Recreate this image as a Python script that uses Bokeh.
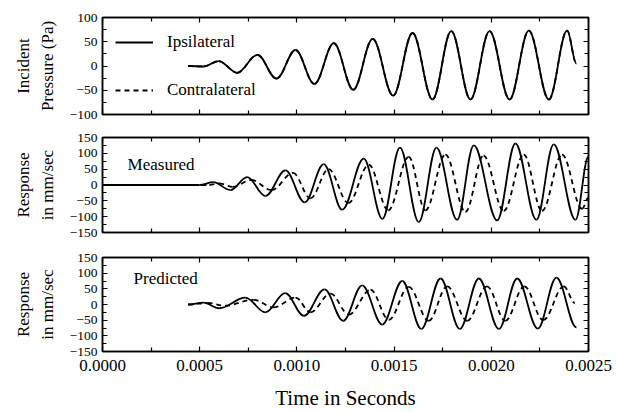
import numpy as np
from bokeh.plotting import figure
from bokeh.models import (Range1d, LinearAxis, FixedTicker, NumeralTickFormatter,
                          CustomJSTickFormatter, Legend, LegendItem, Label, ColumnDataSource)
from bokeh.layouts import column
from bokeh.embed import file_html
from bokeh.resources import INLINE

# ---------------- data ----------------
X_TICKS = [0.0, 0.0005, 0.0010, 0.0015, 0.0020, 0.0025]
X_MINOR = [0.00025, 0.00075, 0.00125, 0.00175, 0.00225]
Y_TICKS_TOP = [-100, -50, 0, 50, 100]
Y_MINOR_TOP = [-75, -25, 25, 75]
Y_TICKS_RESP = [-150, -100, -50, 0, 50, 100, 150]
Y_MINOR_RESP = [-125, -75, -25, 25, 75, 125]

# Incident pressure (Pa): extrema of the traces
IPSI_T = [0.00044, 0.00052, 0.000598, 0.000693, 0.000797, 0.000895, 0.000993, 0.00109,
          0.00119, 0.00129, 0.00139, 0.001495, 0.001595, 0.0016975, 0.001794, 0.001893,
          0.001991, 0.002094, 0.002193, 0.002296, 0.00239, 0.002438]
IPSI_V = [0, -1, 10, -14, 23, -26, 33, -37, 47, -49, 56, -61, 68, -69, 72, -69,
          72, -69, 73, -69, 73, 5]
CONTRA_T = list(IPSI_T)
CONTRA_V = list(IPSI_V)

# Measured response (mm/sec)
MEAS_IPSI_T = [0.0, 0.00050, 0.00057, 0.000658, 0.000744, 0.000838, 0.000941, 0.00104,
               0.001138, 0.001233, 0.001344, 0.00144, 0.00153, 0.001627, 0.001718, 0.001824,
               0.00191, 0.00203, 0.002124, 0.002232, 0.002321, 0.002433, 0.0025]
MEAS_IPSI_V = [0, 0, 9, -16, 25, -35, 46, -55, 66, -78, 83, -107, 118, -117, 118, -110,
               125, -112, 131, -110, 128, -110, 90]
MEAS_CONTRA_T = [0.0, 0.00055, 0.00060, 0.00067, 0.000765, 0.00087, 0.00098, 0.00107,
                 0.001163, 0.001265, 0.00137, 0.00147, 0.001575, 0.001661, 0.001764, 0.001867,
                 0.00196, 0.002064, 0.002167, 0.002261, 0.002364, 0.002467, 0.0025]
MEAS_CONTRA_V = [0, 0, 5, -6, 16, -16, 38, -42, 50, -57, 64, -80, 89, -80, 96, -85,
                 93, -82, 96, -82, 96, -75, -40]

# Predicted response (mm/sec)
PRED_IPSI_T = [0.00044, 0.00052, 0.0006, 0.000735, 0.000838, 0.00094, 0.001036, 0.001142,
               0.001238, 0.001336, 0.001439, 0.001542, 0.00164, 0.001739, 0.001838, 0.001936,
               0.002039, 0.002133, 0.002239, 0.002335, 0.002438]
PRED_IPSI_V = [0, 6, -12, 22, -25, 36, -36, 48, -52, 61, -64, 75, -78, 83, -78, 83,
               -78, 83, -77, 86, -73]
PRED_CONTRA_T = [0.00044, 0.00054, 0.00063, 0.000777, 0.00088, 0.000993, 0.00107, 0.001173,
                 0.001267, 0.001379, 0.001473, 0.001575, 0.001678, 0.001773, 0.001876, 0.001978,
                 0.002072, 0.00217, 0.002267, 0.002373, 0.00243]
PRED_CONTRA_V = [0, 5, -4, 15, -9, 22, -25, 35, -32, 47, -49, 56, -52, 58, -52, 58,
                 -52, 58, -50, 58, 5]

# ---------------- styling ----------------
FONT = "Liberation Serif"
INK = "#000000"
K = 0.364  # bezier handle fraction for smooth sinusoidal arcs between extrema


def bez_source(t, v):
    t = np.asarray(t, dtype=float)
    v = np.asarray(v, dtype=float)
    dt = t[1:] - t[:-1]
    return ColumnDataSource(dict(x0=t[:-1], y0=v[:-1], x1=t[1:], y1=v[1:],
                                 cx0=t[:-1] + K * dt, cy0=v[:-1],
                                 cx1=t[1:] - K * dt, cy1=v[1:]))


def style_axis(ax, labels=True, size="13.5px"):
    ax.axis_line_color = INK
    ax.axis_line_width = 1.5
    ax.major_tick_line_color = INK
    ax.minor_tick_line_color = INK
    ax.major_tick_line_width = 1.2
    ax.minor_tick_line_width = 1.2
    ax.major_tick_in = 5
    ax.major_tick_out = 0
    ax.minor_tick_in = 4
    ax.minor_tick_out = 0
    ax.major_label_text_font = FONT
    ax.major_label_text_color = INK
    ax.axis_label_text_font = FONT
    ax.axis_label_text_font_style = "normal"
    ax.axis_label_text_color = INK
    ax.major_label_text_font_size = size
    if not labels:
        ax.formatter = CustomJSTickFormatter(code="return ''")
        ax.major_label_standoff = 0


def make_fig(height, yr, yticks, yminor, inner_label, outer_label, btop, bbottom, xlabels):
    p = figure(width=623, height=height, x_range=Range1d(0, 0.0025),
               y_range=Range1d(*yr), output_backend="svg", toolbar_location=None,
               min_border_left=102, min_border_right=35,
               min_border_top=btop, min_border_bottom=bbottom)
    p.xgrid.visible = False
    p.ygrid.visible = False
    p.outline_line_color = INK
    p.outline_line_width = 1.5
    p.background_fill_color = "white"
    p.border_fill_color = "white"

    xt = FixedTicker(ticks=X_TICKS, minor_ticks=X_MINOR)
    yt = FixedTicker(ticks=yticks, minor_ticks=yminor)

    xa = p.xaxis[0]
    xa.ticker = xt
    style_axis(xa, labels=xlabels, size="17px")
    if xlabels:
        xa.formatter = NumeralTickFormatter(format="0.0000")
        xa.major_label_standoff = 8
        xa.axis_label = "Time in Seconds"
        xa.axis_label_text_font_size = "21px"
        xa.axis_label_standoff = 12

    ya = p.yaxis[0]
    ya.ticker = yt
    style_axis(ya, labels=True, size="13.5px")
    ya.major_label_standoff = 5
    ya.axis_label = inner_label
    ya.axis_label_text_font_size = "17px"
    ya.axis_label_standoff = 10

    outer = LinearAxis(ticker=FixedTicker(ticks=[]), axis_label=outer_label)
    style_axis(outer, labels=False)
    outer.axis_line_alpha = 0
    outer.major_tick_in = 0
    outer.minor_tick_in = 0
    outer.axis_label_text_font_size = "17px"
    outer.axis_label_standoff = 2
    p.add_layout(outer, "left")

    top = LinearAxis(ticker=xt)
    style_axis(top, labels=False)
    p.add_layout(top, "above")
    right = LinearAxis(ticker=yt)
    style_axis(right, labels=False)
    p.add_layout(right, "right")
    return p


def draw(p, t, v, dash):
    return p.bezier(source=bez_source(t, v), x0="x0", y0="y0", x1="x1", y1="y1",
                    cx0="cx0", cy0="cy0", cx1="cx1", cy1="cy1",
                    line_color=INK, line_width=1.8, line_dash=dash)


# ---------------- panels ----------------
p1 = make_fig(125, (-100, 100), Y_TICKS_TOP, Y_MINOR_TOP, "Pressure (Pa)", "Incident", 17, 11, False)
r_c = draw(p1, CONTRA_T, CONTRA_V, "5 4")
r_i = draw(p1, IPSI_T, IPSI_V, "solid")
leg = Legend(items=[LegendItem(label="Ipsilateral", renderers=[r_i]),
                    LegendItem(label="Contralateral", renderers=[r_c])],
             location=(13, 14), padding=0, margin=0, spacing=28,
             glyph_width=38, glyph_height=20, label_height=20, label_standoff=14,
             border_line_alpha=0, background_fill_alpha=0,
             label_text_font=FONT, label_text_font_size="17px", label_text_color=INK)
p1.add_layout(leg)

p2 = make_fig(119, (-150, 150), Y_TICKS_RESP, Y_MINOR_RESP, "in mm/sec", "Response", 12, 12, False)
draw(p2, MEAS_CONTRA_T, MEAS_CONTRA_V, "5 4")
draw(p2, MEAS_IPSI_T, MEAS_IPSI_V, "solid")
p2.add_layout(Label(x=0.000129, y=64, text="Measured", text_font=FONT,
                    text_font_size="17px", text_baseline="middle", text_color=INK))

p3 = make_fig(168, (-150, 150), Y_TICKS_RESP, Y_MINOR_RESP, "in mm/sec", "Response", 13, 60, True)
draw(p3, PRED_CONTRA_T, PRED_CONTRA_V, "5 4")
draw(p3, PRED_IPSI_T, PRED_IPSI_V, "solid")
p3.add_layout(Label(x=0.00016, y=84, text="Predicted", text_font=FONT,
                    text_font_size="17px", text_baseline="middle", text_color=INK))

layout = column(p1, p2, p3, spacing=0)
open("out.html", "w").write(file_html(layout, INLINE))
